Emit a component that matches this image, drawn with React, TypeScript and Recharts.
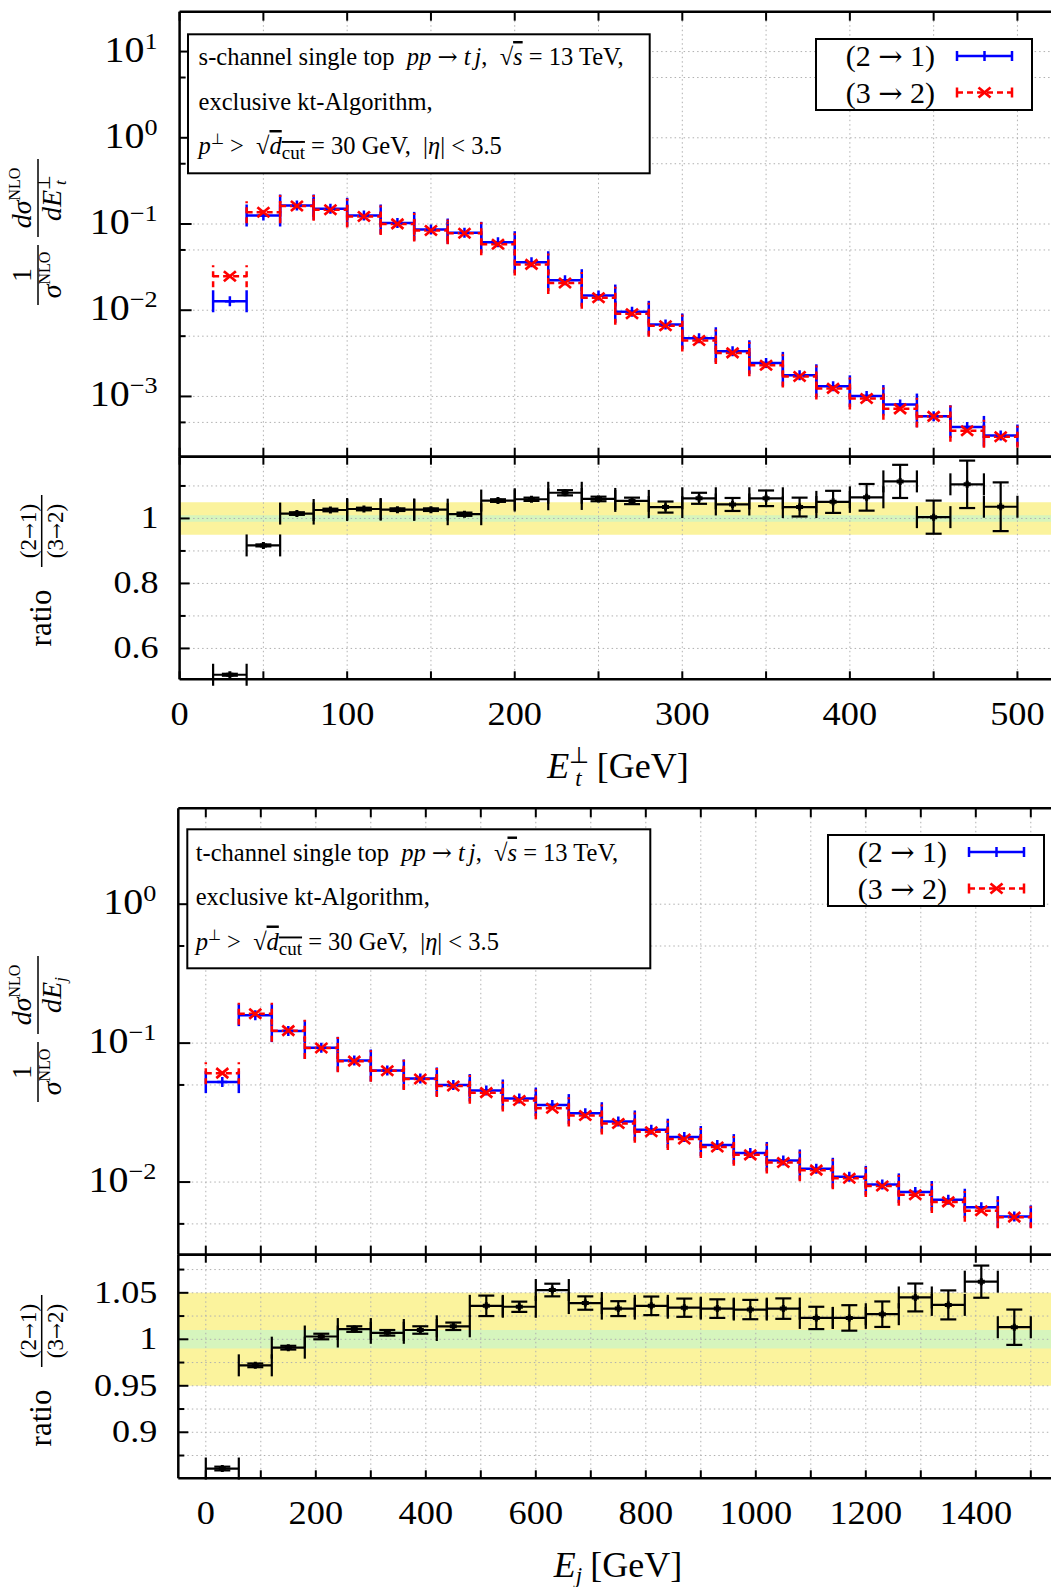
import React from 'react';
import {
  ComposedChart,
  Scatter,
  ErrorBar,
  XAxis,
  YAxis,
  CartesianGrid,
  ReferenceArea,
  ReferenceLine,
  Legend,
} from 'recharts';

const FONT = '"Liberation Serif", "Times New Roman", Times, serif';
const ARROW_FONT = '"DejaVu Serif", "Liberation Serif", serif';
const BLUE = '#0000ff';
const RED = '#ff0000';
const GRID = '#b0b0b0';
const YELLOW = '#fbf39d';
const GREEN = '#d6f5bd';

// ---------------- s-channel (top panel) ----------------
const sCenters = [30, 50, 70, 90, 110, 130, 150, 170, 190, 210, 230, 250, 270, 290, 310, 330, 350, 370, 390, 410, 430, 450, 470, 490];
const sHalfWidth = 10;
const sBlue = [0.0127, 0.1255, 0.164, 0.15, 0.1255, 0.103, 0.0863, 0.079, 0.0615, 0.036, 0.0223, 0.0148, 0.00958, 0.00683, 0.00473, 0.00334, 0.00245, 0.00176, 0.00131, 0.00101, 0.000805, 0.000589, 0.000443, 0.000352];
const sRed = [0.0248, 0.137, 0.1615, 0.146, 0.122, 0.1003, 0.084, 0.078, 0.0583, 0.034, 0.0207, 0.01396, 0.0091, 0.0066, 0.00445, 0.0032, 0.0023, 0.0017, 0.00124, 0.000946, 0.000718, 0.000587, 0.0004, 0.00034];
const sRatio = [0.519, 0.917, 1.015, 1.026, 1.029, 1.027, 1.027, 1.013, 1.055, 1.059, 1.079, 1.06, 1.054, 1.035, 1.062, 1.043, 1.062, 1.035, 1.051, 1.065, 1.114, 1.004, 1.105, 1.036];
const sRatioErr = [0.003, 0.003, 0.004, 0.004, 0.004, 0.004, 0.004, 0.005, 0.004, 0.005, 0.008, 0.007, 0.01, 0.017, 0.017, 0.02, 0.024, 0.029, 0.034, 0.041, 0.051, 0.051, 0.073, 0.075];
const sXTicks = [0, 50, 100, 150, 200, 250, 300, 350, 400, 450, 500];
const sXLabels = [0, 100, 200, 300, 400, 500];
const sYTicks = [5e-4, 1e-3, 5e-3, 1e-2, 5e-2, 1e-1, 5e-1, 1, 5, 10];
const sRatioYTicks = [0.6, 0.7, 0.8, 0.9, 1, 1.1];
const sRatioYLabels = [0.6, 0.8, 1];

// ---------------- t-channel (bottom panel) ----------------
const tCenters = [30, 90, 150, 210, 270, 330, 390, 450, 510, 570, 630, 690, 750, 810, 870, 930, 990, 1050, 1110, 1170, 1230, 1290, 1350, 1410, 1470];
const tHalfWidth = 30;
const tBlue = [0.0524, 0.159, 0.122, 0.0925, 0.075, 0.0636, 0.0557, 0.0499, 0.0456, 0.0399, 0.0358, 0.0313, 0.0273, 0.0238, 0.0211, 0.01845, 0.0162, 0.0143, 0.01246, 0.0109, 0.00962, 0.00848, 0.00746, 0.0066, 0.00566];
const tRed = [0.0608, 0.1625, 0.123, 0.0922, 0.0742, 0.0632, 0.0551, 0.0492, 0.044, 0.0386, 0.034, 0.0301, 0.0264, 0.023, 0.0204, 0.01786, 0.0157, 0.01384, 0.01218, 0.01066, 0.00937, 0.00811, 0.0072, 0.00621, 0.00559];
const tRatio = [0.861, 0.972, 0.991, 1.003, 1.011, 1.007, 1.01, 1.014, 1.036, 1.035, 1.053, 1.039, 1.033, 1.036, 1.034, 1.033, 1.032, 1.033, 1.023, 1.023, 1.027, 1.045, 1.037, 1.062, 1.013];
const tRatioErr = [0.002, 0.002, 0.002, 0.003, 0.003, 0.003, 0.004, 0.004, 0.011, 0.0055, 0.0068, 0.0072, 0.008, 0.01, 0.0098, 0.01, 0.0104, 0.011, 0.012, 0.0137, 0.0137, 0.015, 0.0156, 0.0173, 0.019];
const tXTicks = [0, 100, 200, 300, 400, 500, 600, 700, 800, 900, 1000, 1100, 1200, 1300, 1400, 1500];
const tXLabels = [0, 200, 400, 600, 800, 1000, 1200, 1400];
const tYTicks = [5e-3, 1e-2, 5e-2, 1e-1, 5e-1, 1];
const tRatioYTicks = [0.875, 0.9, 0.925, 0.95, 0.975, 1, 1.025, 1.05, 1.075];
const tRatioYLabels = [0.9, 0.95, 1, 1.05];

const legendEntries = [
  { a: '(2', b: '1)', color: BLUE, dashed: false, marker: 'plus' },
  { a: '(3', b: '2)', color: RED, dashed: true, marker: 'cross' },
];

const histRows = (centers: number[], vals: number[], half: number) =>
  centers.map((c, i) => ({ x: c, y: vals[i], xerr: half }));
const ratioRows = (centers: number[], vals: number[], errs: number[], half: number) =>
  centers.map((c, i) => ({ x: c, y: vals[i], xerr: half, yerr: errs[i] }));

const AXIS = { stroke: '#000', strokeWidth: 2.5 };

// ---------- tick renderers ----------
function XTick(props: any) {
  const { x, y, payload, dir, len, labels, labelDy, fontSize } = props;
  const v = payload.value;
  const show = labels && labels.some((l: number) => Math.abs(l - v) < 1e-9);
  return (
    <g>
      <line x1={x} x2={x} y1={y} y2={y + dir * len} stroke="#000" strokeWidth={2} />
      {show && (
        <text
          transform={`translate(${x},${y + labelDy}) scale(1.07,1)`}
          textAnchor="middle"
          fontFamily={FONT}
          fontSize={fontSize}
          fill="#000"
        >
          {String(v)}
        </text>
      )}
    </g>
  );
}

const fmtExp = (e: number) => (e < 0 ? '\u2212' + Math.abs(e) : String(e));

function LogYTick(props: any) {
  const { x, y, payload } = props;
  const v = payload.value;
  const e = Math.log10(v);
  const major = Math.abs(e - Math.round(e)) < 1e-6;
  return (
    <g>
      <line x1={x} x2={x + (major ? 12 : 6)} y1={y} y2={y} stroke="#000" strokeWidth={2} />
      {major && (
        <text
          transform={`translate(${x - 22},${y + 10}) scale(1.14,1)`}
          textAnchor="end"
          fontFamily={FONT}
          fontSize={35}
          fill="#000"
        >
          10
          <tspan dy={-13} fontSize={23}>
            {fmtExp(Math.round(e))}
          </tspan>
        </text>
      )}
    </g>
  );
}

function LinYTick(props: any) {
  const { x, y, payload, labels } = props;
  const v = payload.value;
  const major = labels.some((l: number) => Math.abs(l - v) < 1e-9);
  return (
    <g>
      <line x1={x} x2={x + (major ? 10 : 6)} y1={y} y2={y} stroke="#000" strokeWidth={2} />
      {major && (
        <text
          transform={`translate(${x - 21},${y + 10}) scale(1.13,1)`}
          textAnchor="end"
          fontFamily={FONT}
          fontSize={32}
          fill="#000"
        >
          {String(v)}
        </text>
      )}
    </g>
  );
}

// ---------- markers ----------
function PlusMark(props: any) {
  const { cx, cy } = props;
  if (cx == null || cy == null) return null;
  return (
    <g>
      <line x1={cx} x2={cx} y1={cy - 5} y2={cy + 5} stroke={BLUE} strokeWidth={2.5} />
      <line x1={cx - 5} x2={cx + 5} y1={cy} y2={cy} stroke={BLUE} strokeWidth={2.5} />
    </g>
  );
}
function CrossMark(props: any) {
  const { cx, cy } = props;
  if (cx == null || cy == null) return null;
  return (
    <g>
      <line x1={cx - 6} x2={cx + 6} y1={cy - 5} y2={cy + 5} stroke={RED} strokeWidth={2.7} />
      <line x1={cx - 6} x2={cx + 6} y1={cy + 5} y2={cy - 5} stroke={RED} strokeWidth={2.7} />
    </g>
  );
}
function RatioMark(props: any) {
  const { cx, cy } = props;
  if (cx == null || cy == null) return null;
  return (
    <g>
      <line x1={cx - 3.5} x2={cx + 3.5} y1={cy} y2={cy} stroke="#000" strokeWidth={4} />
      <line x1={cx} x2={cx} y1={cy - 3.5} y2={cy + 3.5} stroke="#000" strokeWidth={3} />
    </g>
  );
}

function LegendBox() {
  const w = 218;
  const h = 73;
  return (
    <svg width={w} height={h} style={{ display: 'block', overflow: 'visible' }}>
      <rect x={1} y={1} width={w - 2} height={h - 2} fill="#fff" stroke="#000" strokeWidth={2} />
      {legendEntries.map((e, i) => {
        const cy = 18 + i * 36.5;
        const mx = 169.5;
        return (
          <g key={i}>
            <text x={120} y={cy + 10} textAnchor="end" fontFamily={FONT} fontSize={30} fill="#000">
              {e.a + ' '}
              <tspan fontFamily={ARROW_FONT} fontSize={29}>→</tspan>
              {' ' + e.b}
            </text>
            <line x1={142} x2={197} y1={cy} y2={cy} stroke={e.color} strokeWidth={2.5} strokeDasharray={e.dashed ? '6 4' : undefined} />
            <line x1={142} x2={142} y1={cy - 5} y2={cy + 5} stroke={e.color} strokeWidth={2.5} />
            <line x1={197} x2={197} y1={cy - 5} y2={cy + 5} stroke={e.color} strokeWidth={2.5} />
            {e.marker === 'plus' ? (
              <line x1={mx} x2={mx} y1={cy - 5} y2={cy + 5} stroke={e.color} strokeWidth={2.5} />
            ) : (
              <g>
                <line x1={mx - 6} x2={mx + 6} y1={cy - 5} y2={cy + 5} stroke={e.color} strokeWidth={2.7} />
                <line x1={mx - 6} x2={mx + 6} y1={cy + 5} y2={cy - 5} stroke={e.color} strokeWidth={2.7} />
              </g>
            )}
          </g>
        );
      })}
    </svg>
  );
}

// ---------- charts ----------
function MainChart(props: any) {
  const { width, height, margin, xDomain, xTicks, yDomain, yTicks, blue, red, legendLeft, legendTop } = props;
  return (
    <ComposedChart width={width} height={height} margin={margin}>
      <CartesianGrid
        xAxisId="xb"
        yAxisId="yl"
        stroke={GRID}
        strokeDasharray="1.5 3"
        verticalValues={xTicks}
        horizontalValues={yTicks}
      />
      <XAxis
        xAxisId="xb"
        orientation="bottom"
        type="number"
        dataKey="x"
        domain={xDomain}
        allowDataOverflow
        ticks={xTicks}
        interval={0}
        height={1}
        tickSize={0}
        tickMargin={0}
        tickLine={false}
        axisLine={AXIS}
        tick={<XTick dir={-1} len={9} />}
      />
      <XAxis
        xAxisId="xt"
        orientation="top"
        type="number"
        dataKey="x"
        domain={xDomain}
        allowDataOverflow
        ticks={xTicks}
        interval={0}
        height={1}
        tickSize={0}
        tickMargin={0}
        tickLine={false}
        axisLine={AXIS}
        tick={<XTick dir={1} len={9} />}
      />
      <YAxis
        yAxisId="yl"
        orientation="left"
        type="number"
        scale="log"
        domain={yDomain}
        allowDataOverflow
        ticks={yTicks}
        interval={0}
        width={1}
        tickSize={0}
        tickMargin={0}
        tickLine={false}
        axisLine={AXIS}
        tick={<LogYTick />}
      />
      <Scatter xAxisId="xb" yAxisId="yl" name="(2 → 1)" data={blue} dataKey="y" shape={(p: any) => <PlusMark {...p} />} isAnimationActive={false}>
        <ErrorBar dataKey="xerr" direction="x" width={11} stroke={BLUE} strokeWidth={2.5} isAnimationActive={false} />
      </Scatter>
      <Scatter xAxisId="xb" yAxisId="yl" name="(3 → 2)" data={red} dataKey="y" shape={(p: any) => <CrossMark {...p} />} isAnimationActive={false}>
        <ErrorBar dataKey="xerr" direction="x" width={11} stroke={RED} strokeWidth={2.5} strokeDasharray="6 4" isAnimationActive={false} />
      </Scatter>
      <Legend
        layout="horizontal"
        verticalAlign="middle"
        align="center"
        content={() => <LegendBox />}
        wrapperStyle={{ left: legendLeft, top: legendTop, width: 218, height: 73 }}
      />
    </ComposedChart>
  );
}

function RatioChart(props: any) {
  const { width, height, margin, xDomain, xTicks, xLabels, yDomain, yTicks, yLabels, rows } = props;
  return (
    <ComposedChart width={width} height={height} margin={margin}>
      <XAxis
        xAxisId="xb"
        orientation="bottom"
        type="number"
        dataKey="x"
        domain={xDomain}
        allowDataOverflow
        ticks={xTicks}
        interval={0}
        height={1}
        tickSize={0}
        tickMargin={0}
        tickLine={false}
        axisLine={AXIS}
        tick={<XTick dir={-1} len={8} labels={xLabels} labelDy={46} fontSize={34} />}
      />
      <XAxis
        xAxisId="xt"
        orientation="top"
        type="number"
        dataKey="x"
        domain={xDomain}
        allowDataOverflow
        ticks={xTicks}
        interval={0}
        height={1}
        tickSize={0}
        tickMargin={0}
        tickLine={false}
        axisLine={AXIS}
        tick={<XTick dir={1} len={8} />}
      />
      <YAxis
        yAxisId="yl"
        orientation="left"
        type="number"
        domain={yDomain}
        allowDataOverflow
        ticks={yTicks}
        interval={0}
        width={1}
        tickSize={0}
        tickMargin={0}
        tickLine={false}
        axisLine={AXIS}
        tick={<LinYTick labels={yLabels} />}
      />
      <ReferenceArea xAxisId="xb" yAxisId="yl" y1={0.95} y2={1.05} fill={YELLOW} fillOpacity={1} stroke="none" ifOverflow="hidden" />
      <ReferenceArea xAxisId="xb" yAxisId="yl" y1={0.99} y2={1.01} fill={GREEN} fillOpacity={1} stroke="none" ifOverflow="hidden" />
      {xTicks.map((v: number) => (
        <ReferenceLine key={'gx' + v} xAxisId="xb" yAxisId="yl" x={v} stroke={GRID} strokeDasharray="1.5 3" />
      ))}
      {yTicks.map((v: number) => (
        <ReferenceLine key={'gy' + v} xAxisId="xb" yAxisId="yl" y={v} stroke={GRID} strokeDasharray="1.5 3" />
      ))}
      <Scatter xAxisId="xb" yAxisId="yl" data={rows} dataKey="y" shape={(p: any) => <RatioMark {...p} />} isAnimationActive={false}>
        <ErrorBar dataKey="xerr" direction="x" width={11} stroke="#000" strokeWidth={2.2} isAnimationActive={false} />
        <ErrorBar dataKey="yerr" direction="y" width={8} stroke="#000" strokeWidth={2.2} isAnimationActive={false} />
      </Scatter>
    </ComposedChart>
  );
}

// ---------- overlay text ----------
function MainYLabel({ cx, cy, sub }: { cx: number; cy: number; sub: 'tperp' | 'j' }) {
  return (
    <g transform={`translate(${cx},${cy}) rotate(-90)`} fontFamily={FONT} fill="#000">
      <text x={-42} y={-7} textAnchor="middle" fontSize={28}>1</text>
      <line x1={-72} x2={-12} y1={0} y2={0} stroke="#000" strokeWidth={1.5} />
      <text x={-42} y={23} textAnchor="middle" fontSize={28}>
        <tspan fontStyle="italic">σ</tspan>
        <tspan dy={-11} fontSize={16}>NLO</tspan>
      </text>
      <text x={35} y={-7} textAnchor="middle" fontSize={28}>
        <tspan fontStyle="italic">dσ</tspan>
        <tspan dy={-11} fontSize={16}>NLO</tspan>
      </text>
      <line x1={-4} x2={74} y1={0} y2={0} stroke="#000" strokeWidth={1.5} />
      {sub === 'tperp' ? (
        <text x={35} y={23} textAnchor="middle" fontSize={28}>
          <tspan fontStyle="italic">dE</tspan>
          <tspan dy={-11} fontSize={17}>⊥</tspan>
          <tspan dx={-10} dy={16} fontSize={17} fontStyle="italic">t</tspan>
        </text>
      ) : (
        <text x={35} y={23} textAnchor="middle" fontSize={28}>
          <tspan fontStyle="italic">dE</tspan>
          <tspan dy={5} fontSize={17} fontStyle="italic">j</tspan>
        </text>
      )}
    </g>
  );
}

function RatioYLabel({ cx, cy }: { cx: number; cy: number }) {
  return (
    <g transform={`translate(${cx},${cy}) rotate(-90)`} fontFamily={FONT} fill="#000">
      <text x={-49} y={9} textAnchor="middle" fontSize={31}>ratio</text>
      <text x={38} y={-6} textAnchor="middle" fontSize={23}>
        (2<tspan fontFamily={ARROW_FONT} fontSize={19}>→</tspan>1)
      </text>
      <line x1={2} x2={74} y1={0} y2={0} stroke="#000" strokeWidth={1.5} />
      <text x={38} y={21} textAnchor="middle" fontSize={23}>
        (3<tspan fontFamily={ARROW_FONT} fontSize={19}>→</tspan>2)
      </text>
    </g>
  );
}

function InfoBox({ x, y, w, h, tx, b1, channel }: any) {
  const fs = 24.5;
  const gap = 44.5;
  return (
    <g fontFamily={FONT} fill="#000">
      <rect x={x} y={y} width={w} height={h} fill="#fff" stroke="#000" strokeWidth={2} />
      <text x={tx} y={b1} fontSize={fs} style={{ whiteSpace: 'pre' }}>
        {channel + ' single top  '}
        <tspan fontStyle="italic">pp</tspan>
        {' '}
        <tspan fontFamily={ARROW_FONT} fontSize={24}>→</tspan>
        {' '}
        <tspan fontStyle="italic">t</tspan>
        <tspan fontStyle="italic" dx={4}>j</tspan>
        {',  √'}
        <tspan fontStyle="italic" textDecoration="overline">s</tspan>
        {' = 13 TeV,'}
      </text>
      <text x={tx} y={b1 + gap} fontSize={fs}>exclusive kt-Algorithm,</text>
      <text x={tx} y={b1 + 2 * gap} fontSize={fs} style={{ whiteSpace: 'pre' }}>
        <tspan fontStyle="italic">p</tspan>
        <tspan dy={-10} fontSize={15}>⊥</tspan>
        <tspan dy={10}>{' >  √'}</tspan>
        <tspan fontStyle="italic" textDecoration="overline">d</tspan>
        <tspan dy={5} fontSize={19} textDecoration="overline">cut</tspan>
        <tspan dy={-5}>{' = 30 GeV,  |'}</tspan>
        <tspan fontStyle="italic">η</tspan>
        {'| < 3.5'}
      </text>
    </g>
  );
}

export default function App() {
  const sBlueRows = histRows(sCenters, sBlue, sHalfWidth);
  const sRedRows = histRows(sCenters, sRed, sHalfWidth);
  const sRatioRows = ratioRows(sCenters, sRatio, sRatioErr, sHalfWidth);
  const tBlueRows = histRows(tCenters, tBlue, tHalfWidth);
  const tRedRows = histRows(tCenters, tRed, tHalfWidth);
  const tRatioRows = ratioRows(tCenters, tRatio, tRatioErr, tHalfWidth);

  return (
    <div
      style={{
        position: 'absolute',
        left: 0,
        top: 0,
        width: 1051,
        height: 1587,
        overflow: 'hidden',
        background: '#fff',
        fontFamily: FONT,
      }}
    >
      <div style={{ position: 'absolute', left: 0, top: 0 }}>
        <MainChart
          width={1100}
          height={470}
          margin={{ top: 10.7, left: 178.6, right: 32.3, bottom: 12.3 }}
          xDomain={[0, 530]}
          xTicks={sXTicks}
          yDomain={[2e-4, 29]}
          yTicks={sYTicks}
          blue={sBlueRows}
          red={sRedRows}
          legendLeft={815}
          legendTop={37.5}
        />
      </div>
      <div style={{ position: 'absolute', left: 0, top: 440 }}>
        <RatioChart
          width={1100}
          height={347}
          margin={{ top: 15.7, left: 178.6, right: 32.3, bottom: 106.7 }}
          xDomain={[0, 530]}
          xTicks={sXTicks}
          xLabels={sXLabels}
          yDomain={[0.505, 1.19]}
          yTicks={sRatioYTicks}
          yLabels={sRatioYLabels}
          rows={sRatioRows}
        />
      </div>
      <div style={{ position: 'absolute', left: 0, top: 790 }}>
        <MainChart
          width={1100}
          height={470}
          margin={{ top: 17.3, left: 177.3, right: 36.2, bottom: 4.3 }}
          xDomain={[-50, 1560]}
          xTicks={tXTicks}
          yDomain={[3e-3, 4.9]}
          yTicks={tYTicks}
          blue={tBlueRows}
          red={tRedRows}
          legendLeft={826.5}
          legendTop={44.3}
        />
      </div>
      <div style={{ position: 'absolute', left: 0, top: 1230 }}>
        <RatioChart
          width={1100}
          height={357}
          margin={{ top: 23.7, left: 177.3, right: 36.2, bottom: 107.7 }}
          xDomain={[-50, 1560]}
          xTicks={tXTicks}
          xLabels={tXLabels}
          yDomain={[0.8505, 1.091]}
          yTicks={tRatioYTicks}
          yLabels={tRatioYLabels}
          rows={tRatioRows}
        />
      </div>
      <svg
        width={1051}
        height={1587}
        style={{ position: 'absolute', left: 0, top: 0, pointerEvents: 'none' }}
      >
        <InfoBox x={188} y={34.3} w={461.7} h={139} tx={198.6} b1={65} channel="s-channel" />
        <InfoBox x={187.3} y={829.3} w={463} h={139} tx={195.7} b1={860.5} channel="t-channel" />
        <MainYLabel cx={38} cy={233} sub="tperp" />
        <MainYLabel cx={38} cy={1030} sub="j" />
        <RatioYLabel cx={41.7} cy={569} />
        <RatioYLabel cx={41.7} cy={1369} />
        <text x={618} y={778} textAnchor="middle" fontFamily={FONT} fontSize={36} fill="#000">
          <tspan fontStyle="italic">E</tspan>
          <tspan dy={-15} fontSize={23}>⊥</tspan>
          <tspan dx={-14} dy={23} fontSize={23} fontStyle="italic">t</tspan>
          <tspan dx={15} dy={-8}>[GeV]</tspan>
        </text>
        <text x={618} y={1577} textAnchor="middle" fontFamily={FONT} fontSize={36} fill="#000">
          <tspan fontStyle="italic">E</tspan>
          <tspan dy={6} fontSize={23} fontStyle="italic">j</tspan>
          <tspan dx={8} dy={-6}>[GeV]</tspan>
        </text>
      </svg>
    </div>
  );
}
